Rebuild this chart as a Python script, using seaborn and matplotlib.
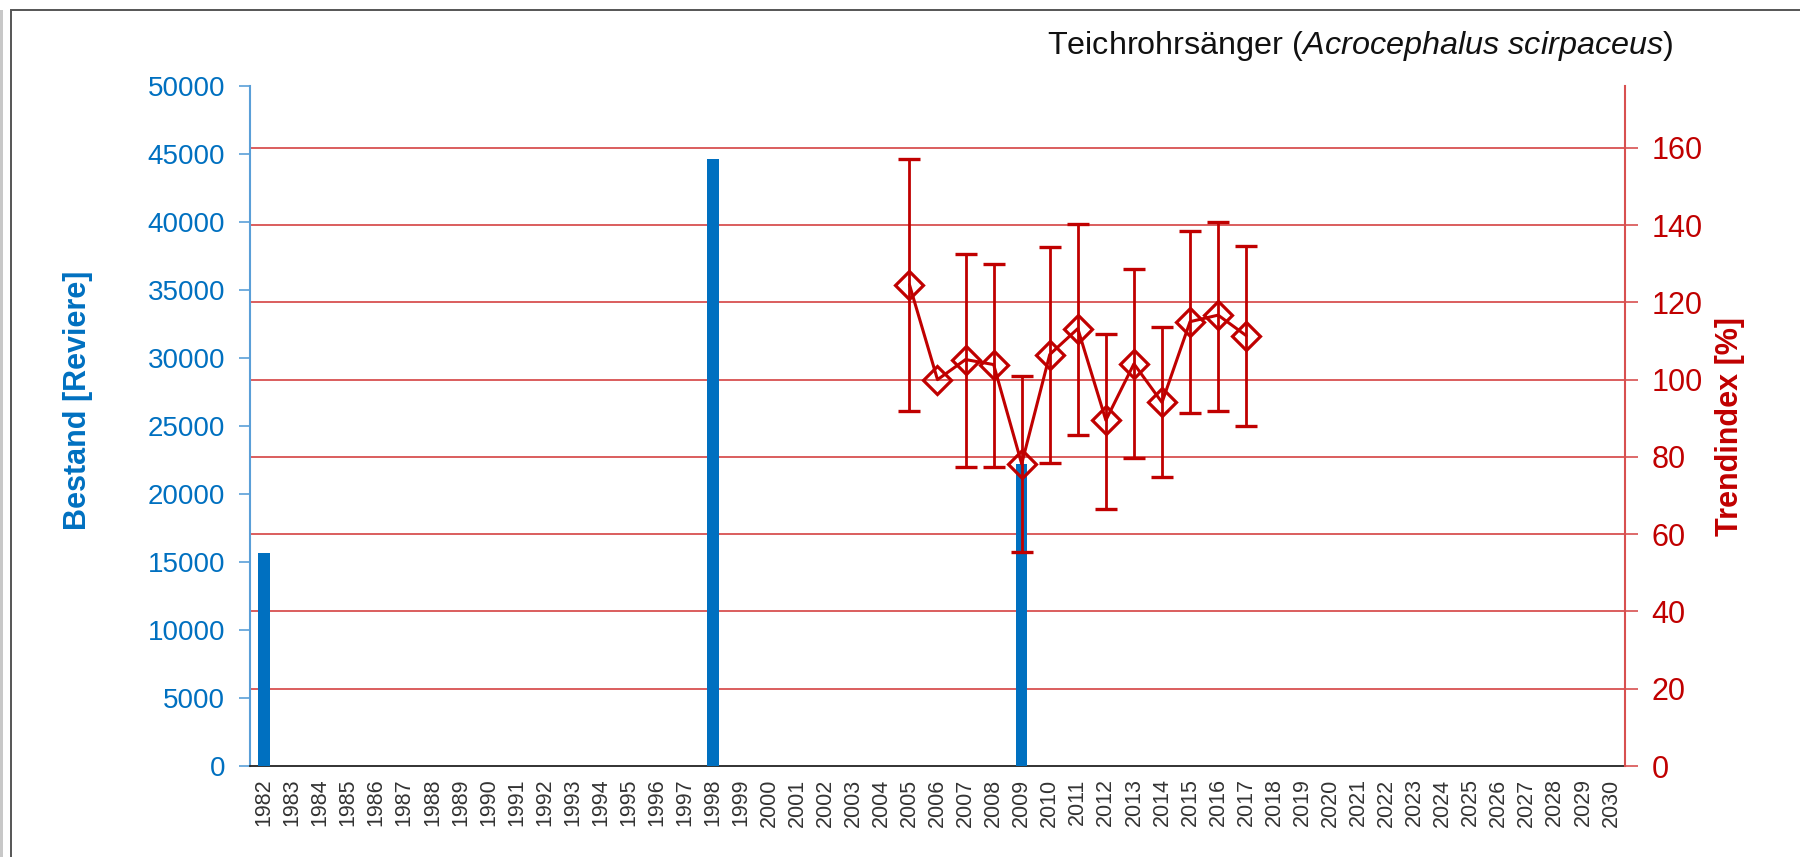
import numpy as np
import pandas as pd
import matplotlib
matplotlib.use("Agg")
import matplotlib.pyplot as plt
import matplotlib.transforms as mtransforms
from matplotlib.patches import Rectangle
from matplotlib.lines import Line2D
import seaborn as sns

# ---------------- data ----------------
years = [str(y) for y in range(1982, 2031)]

bestand_years = ["1982", "1998", "2009"]
bestand_values = [15650, 44600, 22200]

trend_years = ["2005", "2006", "2007", "2008", "2009", "2010", "2011",
               "2012", "2013", "2014", "2015", "2016", "2017"]
trend_values = [124.6, 100.0, 105.2, 103.9, 78.2, 106.5, 113.2,
                89.5, 104.1, 94.1, 115.0, 116.7, 111.4]
trend_upper = [157.2, np.nan, 132.4, 130.0, 100.9, 134.4, 140.3,
               111.9, 128.7, 113.5, 138.4, 140.8, 134.7]
trend_lower = [92.0, np.nan, 77.4, 77.4, 55.3, 78.4, 85.8,
               66.6, 79.6, 74.7, 91.4, 91.8, 88.1]

left_ticks = list(range(0, 50001, 5000))
right_ticks = list(range(0, 161, 20))

title_text = r"Teichrohrsänger ($\mathit{Acrocephalus\ scirpaceus}$)"
left_label = "Bestand [Reviere]"
right_label = "Trendindex [%]"

# ---------------- style ----------------
sns.set_style("white")
plt.rcParams["font.family"] = ["Liberation Sans", "DejaVu Sans"]
plt.rcParams["mathtext.fontset"] = "custom"
plt.rcParams["mathtext.rm"] = "Liberation Sans"
plt.rcParams["mathtext.it"] = "Liberation Sans:italic"

BLUE = "#0070C0"
BLUE_SPINE = "#5A9FD8"
RED = "#C00000"
GRID_RED = "#D85050"

fig = plt.figure(figsize=(18, 8.57), dpi=100)
ax = fig.add_axes([250 / 1800, 1 - 766 / 857, 1375 / 1800, 680 / 857])
ax2 = ax.twinx()

df_bar = pd.DataFrame({"year": bestand_years, "bestand": bestand_values})
sns.barplot(data=df_bar, x="year", y="bestand", order=years, color=BLUE,
            width=0.4, saturation=1, ax=ax, zorder=3)
for p in ax.patches:
    p.set_edgecolor("none")

ax.set_xlim(-0.5, len(years) - 0.5)
ax.set_ylim(0, 50000)
ax2.set_ylim(0, 176)

# red gridlines (from right axis) drawn beneath the bars
blend = mtransforms.blended_transform_factory(ax.transAxes, ax2.transData)
for v in right_ticks[1:]:
    ax.add_line(Line2D([0, 1], [v, v], transform=blend, color=GRID_RED,
                       lw=1.3, zorder=1))

# trend series
pos = np.array([years.index(y) for y in trend_years], dtype=float)
tv = np.array(trend_values)
up = np.array(trend_upper)
lo = np.array(trend_lower)
ax2.errorbar(pos, tv, yerr=[tv - lo, up - tv], fmt="none", ecolor=RED,
             elinewidth=2, capsize=8, capthick=2.4, zorder=3)
df_tr = pd.DataFrame({"x": pos, "trend": tv})
sns.lineplot(data=df_tr, x="x", y="trend", ax=ax2, color=RED, lw=2.2,
             marker="D", markersize=14, mfc="none", mec=RED, mew=2.3,
             zorder=4)
ax2.set_xlim(-0.5, len(years) - 0.5)

# x axis
ax.set_xticks(range(len(years)))
ax.set_xticklabels(years, rotation=90, fontsize=15.5, color="#333333")
ax.set_xticks(np.arange(-0.5, len(years), 1), minor=True)
ax.tick_params(axis="x", which="major", length=0, pad=9)
ax.tick_params(axis="x", which="minor", length=8, width=1.2,
               color="#222222", direction="out")
ax.set_xlabel("")

# left axis
ax.set_yticks(left_ticks)
ax.set_yticklabels([str(t) for t in left_ticks], fontsize=20, color=BLUE)
ax.tick_params(axis="y", which="major", left=True, length=8, width=1.2,
               color=BLUE_SPINE, direction="out", pad=10)
ax.set_ylabel(left_label, fontsize=22, fontweight="bold", color=BLUE)
ax.yaxis.set_label_coords((78 - 250) / 1375, (766 - 400) / 680)
ax.yaxis.label.set_va("center")

# right axis
ax2.set_yticks(right_ticks)
ax2.set_yticklabels([str(t) for t in right_ticks], fontsize=22, color=RED)
ax2.tick_params(axis="y", which="major", right=True, length=9, width=1.2,
                color=GRID_RED, direction="out", pad=10)
ax2.set_ylabel(right_label, fontsize=22, fontweight="bold", color=RED)
ax2.yaxis.set_label_coords((1730 - 250) / 1375, (766 - 427) / 680)
ax2.yaxis.label.set_va("center")

for a in (ax, ax2):
    a.grid(False)
    for s in a.spines.values():
        s.set_visible(False)
ax.spines["left"].set_visible(True)
ax.spines["left"].set_color(BLUE_SPINE)
ax.spines["left"].set_linewidth(1.5)
ax.spines["bottom"].set_visible(True)
ax.spines["bottom"].set_color("#222222")
ax.spines["bottom"].set_linewidth(1.3)
ax2.spines["right"].set_visible(True)
ax2.spines["right"].set_color(GRID_RED)
ax2.spines["right"].set_linewidth(1.5)
ax.patch.set_alpha(0)

# title
fig.text(1360 / 1800, 1 - 46 / 857, title_text, fontsize=23.3,
         ha="center", va="center", color="#111111")

# outer frame like the source screenshot
fig.patches.append(Rectangle((11 / 1800, -0.05), 1.2, 1 - 10 / 857 + 0.05,
                             transform=fig.transFigure, fill=False,
                             edgecolor="#555555", lw=1.4))
fig.patches.append(Rectangle((0, 0), 2.5 / 1800, 1 - 10 / 857,
                             transform=fig.transFigure, facecolor="#c8c8c8",
                             edgecolor="none"))

fig.savefig("out.png", dpi=100)
